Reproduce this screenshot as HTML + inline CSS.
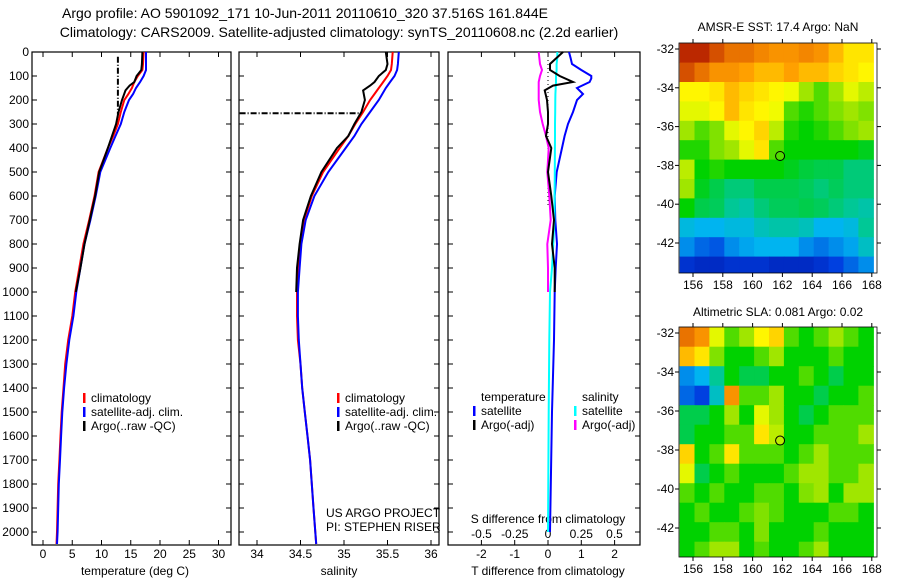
<!DOCTYPE html>
<html><head><meta charset="utf-8"><style>
body{margin:0;background:#fff;}
svg{display:block;font-family:"Liberation Sans",sans-serif;font-size:12px;}
</style></head><body>
<svg id="c" width="900" height="580" xmlns="http://www.w3.org/2000/svg">
<text x="305" y="18" text-anchor="middle" font-size="14">Argo profile: AO 5901092_171 10-Jun-2011 20110610_320 37.516S 161.844E</text>
<text x="339" y="37" text-anchor="middle" font-size="14">Climatology: CARS2009. Satellite-adjusted climatology: synTS_20110608.nc (2.2d earlier)</text>
<text x="135" y="575" text-anchor="middle">temperature (deg C)</text>
<text x="339" y="575" text-anchor="middle">salinity</text>
<text x="548" y="575" text-anchor="middle">T difference from climatology</text>
<text x="548" y="523" text-anchor="middle">S difference from climatology</text>
<text x="778" y="31" text-anchor="middle">AMSR-E SST: 17.4 Argo: NaN</text>
<text x="778" y="316" text-anchor="middle">Altimetric SLA: 0.081 Argo: 0.02</text>
<text x="0" y="0" transform="translate(893,548) rotate(-90)">©IMOS 27-Sep-2011 18:44:19</text>
<text x="326" y="517">US ARGO PROJECT</text>
<text x="326" y="531">PI: STEPHEN RISER</text>
</svg>
<script>
// ---- data ----
const depthsT=[0,50,75,100,125,150,175,200,250,300,350,400,500,600,700,800,900,1000,1100,1200,1300,1400,1500,1600,1700,1800,1900,2000,2050];
const tempClim=[17.2,17.1,17.0,16.2,15.6,15.2,14.6,13.9,13.3,12.8,12.0,11.1,9.5,8.8,7.9,6.9,6.2,5.5,5.0,4.3,3.8,3.5,3.2,3.0,2.8,2.6,2.5,2.4,2.3];
const tempSat=[17.6,17.6,17.6,17.2,16.6,15.9,15.4,14.7,13.9,13.3,12.4,11.5,9.8,9.0,8.1,7.1,6.4,5.7,5.2,4.5,4.0,3.6,3.3,3.1,2.9,2.7,2.6,2.5,2.4];
const depthsArgo=[0,50,75,100,125,140,160,200,250,300,350,400,500,600,700,800,900,1000];
const tempArgo=[17.0,16.9,16.8,16.0,15.6,14.8,14.1,13.5,12.9,12.5,11.8,11.1,9.6,8.9,8.0,7.1,6.4,5.6];
const rawTDepth=[20,260];const rawTVal=[12.8,12.8];
const salClim=[35.56,35.55,35.54,35.5,35.45,35.4,35.35,35.3,35.22,35.13,35.05,34.95,34.76,34.63,34.54,34.5,34.47,34.46,34.46,34.47,34.5,34.52,34.55,34.58,34.61,34.63,34.65,34.67,34.68];
const salSat=[35.63,35.62,35.61,35.58,35.53,35.48,35.44,35.4,35.3,35.2,35.12,35.02,34.82,34.66,34.56,34.51,34.49,34.47,34.47,34.48,34.5,34.52,34.55,34.58,34.61,34.63,34.65,34.67,34.68];
const salArgo=[35.48,35.5,35.48,35.4,35.35,35.3,35.22,35.24,35.2,35.12,35.05,34.92,34.74,34.62,34.53,34.49,34.46,34.45];
const rawSDepth=[255,255];const rawSVal=[33.8,35.2];
const depthsDiff=[0,25,50,75,100,110,125,150,175,200,250,300,350,400,500,600,700,800,900,1000,1200,1500,2000];
const tDiffSat=[0.63,0.68,0.72,1.0,1.3,1.3,1.25,0.87,1.05,0.87,0.75,0.6,0.5,0.42,0.26,0.2,0.22,0.27,0.23,0.2,0.18,0.12,0.06];
const tDiffArgo=[0.45,0.06,0.06,0.35,0.75,0.15,-0.1,-0.03,0,0,-0.06,0.1,0,0.1,0.18,0.12,0.2,0.2,0.18,0.12];
const sDiffSat=[0.07,0.07,0.065,0.065,0.06,0.06,0.06,0.058,0.056,0.055,0.054,0.053,0.053,0.052,0.051,0.05,0.048,0.04,0.03,0.015,0.01,0.005,0];
const sDiffArgo=[-0.07,-0.06,-0.045,-0.06,-0.07,-0.07,-0.07,-0.07,-0.06,-0.04,-0.015,0.005,-0.005,0.01,0.02,-0.005,0,0,0,-0.005];
const tTicks=[0,5,10,15,20,25,30];
const sTicks=[34,34.5,35,35.5,36];
const dTicks=[-2,-1,0,1,2];
const sdTicks=[-0.5,-0.25,0,0.25,0.5];
const sdTickLabels=["-0.5","-0.25","0","0.25","0.5"];
const depthTicks=[0,100,200,300,400,500,600,700,800,900,1000,1100,1200,1300,1400,1500,1600,1700,1800,1900,2000];
const mapLonTicks=[156,158,160,162,164,166,168];
const mapLatTicks=[-32,-34,-36,-38,-40,-42];
const floatLon=161.844, floatLat=-37.516;
const sstGrid=[
[0.95,0.95,0.9,0.85,0.85,0.82,0.8,0.8,0.82,0.8,0.75,0.7,0.7],
[0.9,0.85,0.8,0.8,0.78,0.75,0.75,0.78,0.75,0.75,0.72,0.7,0.68],
[0.68,0.68,0.7,0.75,0.72,0.7,0.68,0.66,0.6,0.55,0.6,0.65,0.62],
[0.65,0.65,0.68,0.75,0.7,0.68,0.66,0.55,0.52,0.55,0.58,0.6,0.58],
[0.6,0.55,0.58,0.65,0.68,0.72,0.62,0.52,0.5,0.52,0.55,0.58,0.6],
[0.52,0.52,0.58,0.6,0.65,0.7,0.55,0.5,0.5,0.5,0.5,0.5,0.48],
[0.62,0.5,0.52,0.5,0.5,0.5,0.5,0.48,0.46,0.45,0.45,0.42,0.42],
[0.6,0.48,0.45,0.42,0.42,0.45,0.45,0.45,0.44,0.42,0.44,0.42,0.42],
[0.5,0.45,0.44,0.4,0.38,0.42,0.44,0.44,0.45,0.44,0.42,0.4,0.38],
[0.32,0.3,0.3,0.32,0.32,0.36,0.38,0.38,0.36,0.3,0.3,0.32,0.4],
[0.25,0.2,0.18,0.25,0.28,0.3,0.3,0.3,0.25,0.22,0.25,0.28,0.35],
[0.12,0.1,0.1,0.12,0.12,0.12,0.1,0.1,0.1,0.12,0.15,0.2,0.25]];
const slaGrid=[
[0.85,0.8,0.65,0.55,0.6,0.68,0.72,0.55,0.5,0.55,0.6,0.55,0.5],
[0.75,0.7,0.58,0.5,0.5,0.55,0.6,0.5,0.5,0.5,0.55,0.5,0.5],
[0.25,0.3,0.4,0.5,0.45,0.45,0.5,0.5,0.55,0.5,0.45,0.5,0.5],
[0.2,0.15,0.35,0.8,0.55,0.55,0.6,0.5,0.5,0.45,0.5,0.5,0.55],
[0.45,0.45,0.5,0.6,0.5,0.65,0.6,0.5,0.45,0.5,0.55,0.55,0.55],
[0.45,0.5,0.5,0.55,0.55,0.7,0.62,0.5,0.5,0.55,0.55,0.55,0.6],
[0.72,0.5,0.55,0.7,0.55,0.55,0.55,0.5,0.55,0.6,0.55,0.55,0.55],
[0.65,0.45,0.5,0.55,0.5,0.5,0.5,0.55,0.6,0.6,0.55,0.55,0.6],
[0.55,0.5,0.55,0.5,0.5,0.55,0.55,0.5,0.58,0.6,0.5,0.6,0.6],
[0.5,0.55,0.5,0.5,0.55,0.58,0.55,0.5,0.5,0.5,0.55,0.55,0.5],
[0.5,0.5,0.55,0.55,0.5,0.58,0.5,0.5,0.5,0.55,0.5,0.5,0.5],
[0.5,0.55,0.6,0.6,0.5,0.55,0.5,0.5,0.55,0.6,0.5,0.5,0.5]];

// ---- drawing ----
const svg=document.getElementById('c');
const NS='http://www.w3.org/2000/svg';
function mk(tag,attrs,parent){const e=document.createElementNS(NS,tag);for(const k in attrs)e.setAttribute(k,attrs[k]);(parent||svg).appendChild(e);return e;}
const Y0=52,Y1=545;
const yD=d=>Y0+d*0.24;
const xT=t=>43+5.85*t;
const xS=s=>257+87*(s-34);
const xDT=t=>548+33.3*t;
const xDS=s=>548+133*s;

function panel(name,x0,x1){
  const r=mk('rect',{x:x0,y:Y0,width:x1-x0,height:Y1-Y0,fill:'none',stroke:'#000','stroke-width':1.2});
  
  
  depthTicks.forEach(d=>{mk('line',{x1:x0,x2:x0+5,y1:yD(d),y2:yD(d),stroke:'#000'});mk('line',{x1:x1-5,x2:x1,y1:yD(d),y2:yD(d),stroke:'#000'});});
}
function xticks(vals,labels,fx,ty,name){
  vals.forEach((v,i)=>{const x=fx(v);
    mk('line',{x1:x,x2:x,y1:Y0,y2:Y0+5,stroke:'#000'});mk('line',{x1:x,x2:x,y1:Y1-5,y2:Y1,stroke:'#000'});
    const t=mk('text',{x:x,y:ty,'text-anchor':'middle'});t.textContent=labels[i];
    
    });
}
function line(xs,ds,fx,color,name,w,dash){
  const pts=xs.map((v,i)=>fx(v).toFixed(1)+','+yD(ds[i]).toFixed(1)).join(' ');
  const p=mk('polyline',{points:pts,fill:'none',stroke:color,'stroke-width':w||2,'stroke-dasharray':dash||'none'});
  
  
}
panel('temperature-panel',32,231);
panel('salinity-panel',239,439);
panel('difference-panel',448,640);
depthTicks.forEach(d=>{const t=mk('text',{x:29,y:yD(d)+4,'text-anchor':'end'});t.textContent=d;
  
  });
xticks(tTicks,tTicks.map(String),xT,558,'temperature-tick-label');
xticks(sTicks,sTicks.map(String),xS,558,'salinity-tick-label');
xticks(dTicks,dTicks.map(String),xDT,558,'t-diff-tick-label');
sdTicks.forEach((v,i)=>{const t=mk('text',{x:xDS(v),y:538,'text-anchor':'middle'});t.textContent=sdTickLabels[i];
  
  });

line(tempClim,depthsT,xT,'#f00','temp-climatology-line');
line(tempSat,depthsT,xT,'#00f','temp-satellite-line');
line(tempArgo,depthsArgo,xT,'#000','temp-argo-line');
line(rawTVal,rawTDepth,xT,'#000','temp-raw-line',2,'6,2,1,2');
line(salClim,depthsT,xS,'#f00','sal-climatology-line');
line(salSat,depthsT,xS,'#00f','sal-satellite-line');
line(salArgo,depthsArgo,xS,'#000','sal-argo-line');
line(rawSVal,rawSDepth,xS,'#000','sal-raw-line',2,'6,2,1,2');
mk('line',{x1:548,x2:548,y1:Y0,y2:yD(650),stroke:'#000','stroke-dasharray':'1,3'});
line(tDiffSat,depthsDiff,xDT,'#00f','t-diff-satellite-line');
line(sDiffSat,depthsDiff,xDS,'#0ff','s-diff-satellite-line');
line(sDiffArgo,depthsArgo,xDS,'#f0f','s-diff-argo-line');
line(tDiffArgo,depthsArgo,xDT,'#000','t-diff-argo-line');

function legend(x,y,items,name){
  items.forEach((it,i)=>{
    mk('rect',{x:x,y:y+i*14-9,width:2.5,height:10,fill:it[1]});
    const t=mk('text',{x:x+8,y:y+i*14});t.textContent=it[0];
    
    });
}
const leg=[['climatology','#f00'],['satellite-adj. clim.','#00f'],['Argo(..raw -QC)','#000']];
legend(83,402,leg,'temp-legend-entry');
legend(337,402,leg,'sal-legend-entry');
let tt=mk('text',{x:481,y:401});tt.textContent='temperature';
legend(473,415,[['satellite','#00f'],['Argo(-adj)','#000']],'t-diff-legend-entry');
tt=mk('text',{x:582,y:401});tt.textContent='salinity';
legend(574,415,[['satellite','#0ff'],['Argo(-adj)','#f0f']],'s-diff-legend-entry');

const cmapStops=[[0,[0,0,140]],[0.15,[0,64,224]],[0.3,[0,180,240]],[0.4,[0,200,150]],[0.5,[0,210,0]],[0.6,[160,230,0]],[0.67,[255,255,0]],[0.78,[255,160,0]],[0.88,[224,96,0]],[1,[160,0,0]]];
function cmap(v){
  v=Math.max(0,Math.min(1,v));
  for(let i=1;i<cmapStops.length;i++){
    if(v<=cmapStops[i][0]){const a=cmapStops[i-1],b=cmapStops[i];const f=(v-a[0])/(b[0]-a[0]);
      const c=a[1].map((x,k)=>Math.round(x+(b[1][k]-x)*f));return `rgb(${c[0]},${c[1]},${c[2]})`;}
  }
  return 'rgb(160,0,0)';
}
function map(grid,mx0,mx1,my0,my1,lat32y,lat42y,name){
  const lonX=l=>693+(l-156)*14.9;
  const latY=l=>lat32y+(-32-l)*(lat42y-lat32y)/10;
  const g=mk('g',{});
  
  
  grid.forEach((row,i)=>row.forEach((v,j)=>{
    const lx=155.1+j, ly=-31.7-i;
    const x=lonX(lx),y=latY(ly);
    const w=lonX(lx+1)-x,h=latY(ly-1)-y;
    const cell=mk('rect',{x:x.toFixed(1),y:y.toFixed(1),width:(w+0.6).toFixed(1),height:(h+0.6).toFixed(1),fill:cmap(v)},g);
    
    
  }));
  mk('rect',{x:mx1,y:my0-5,width:20,height:my1-my0+10,fill:'#fff'});
  mk('rect',{x:mx0-5,y:my1,width:mx1-mx0+10,height:10,fill:'#fff'});
  mk('rect',{x:mx0,y:my0,width:mx1-mx0,height:my1-my0,fill:'none',stroke:'#000','stroke-width':0.8});
  mapLonTicks.forEach(l=>{const x=lonX(l);
    mk('line',{x1:x,x2:x,y1:my0-4,y2:my0,stroke:'#000'});mk('line',{x1:x,x2:x,y1:my1,y2:my1+4,stroke:'#000'});
    const t=mk('text',{x:x,y:my1+16,'text-anchor':'middle'});t.textContent=l;
    
    });
  mapLatTicks.forEach(l=>{const y=latY(l);
    mk('line',{x1:mx0-4,x2:mx0,y1:y,y2:y,stroke:'#000'});mk('line',{x1:mx1,x2:mx1+4,y1:y,y2:y,stroke:'#000'});
    const t=mk('text',{x:mx0-5,y:y+4,'text-anchor':'end'});t.textContent=l;
    
    });
  const c=mk('circle',{cx:lonX(floatLon),cy:latY(floatLat),r:4.5,fill:'none',stroke:'#000','stroke-width':1});
  
  
}
map(sstGrid,679,877,43,273,49,243,'sst-map');
map(slaGrid,679,877,327,557,333,528,'sla-map');
</script>
</body></html>
